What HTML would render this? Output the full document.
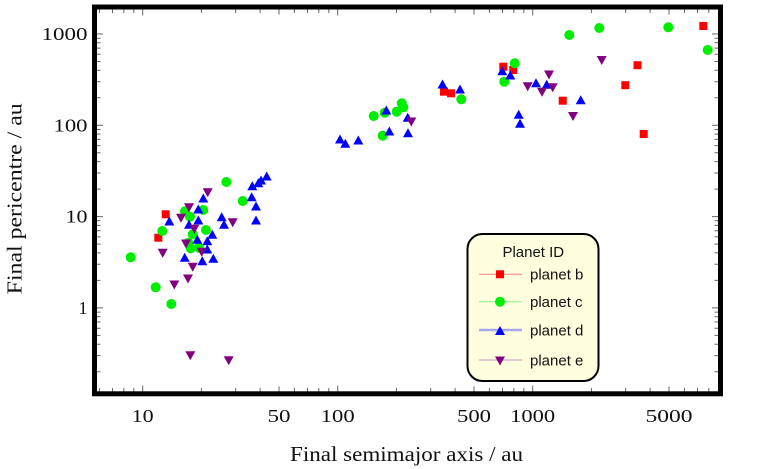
<!DOCTYPE html>
<html>
<head>
<meta charset="utf-8">
<style>
html,body{margin:0;padding:0;background:#fff;}
svg{display:block;}
.tk{font-family:"Liberation Serif",serif;font-size:18px;fill:#111;}
.ax{font-family:"Liberation Serif",serif;font-size:21px;fill:#111;}
.lg{font-family:"Liberation Sans",sans-serif;font-size:15px;fill:#111;}
</style>
</head>
<body>
<svg width="768" height="469" viewBox="0 0 768 469" xmlns="http://www.w3.org/2000/svg">
<rect x="0" y="0" width="768" height="469" fill="#fff"/>

<!-- ticks -->
<g stroke="#666" stroke-width="1" fill="none">
<path d="M142.7 391.5v-6M337.7 391.5v-6M532.7 391.5v-6M279 391.5v-5M474 391.5v-5M669 391.5v-5"/>
<path d="M99.4 391.5v-3.5M112.5 391.5v-3.5M123.8 391.5v-3.5M133.8 391.5v-3.5M201.4 391.5v-3.5M235.7 391.5v-3.5M260.1 391.5v-3.5M294.4 391.5v-3.5M307.5 391.5v-3.5M318.8 391.5v-3.5M328.8 391.5v-3.5M396.4 391.5v-3.5M430.7 391.5v-3.5M455.1 391.5v-3.5M489.4 391.5v-3.5M502.5 391.5v-3.5M513.8 391.5v-3.5M523.8 391.5v-3.5M591.4 391.5v-3.5M625.7 391.5v-3.5M650.1 391.5v-3.5M684.4 391.5v-3.5M697.5 391.5v-3.5M708.8 391.5v-3.5"/>
<path d="M142.7 9.5v6M337.7 9.5v6M532.7 9.5v6M279 9.5v5M474 9.5v5M669 9.5v5"/>
<path d="M99.4 9.5v3.5M112.5 9.5v3.5M123.8 9.5v3.5M133.8 9.5v3.5M201.4 9.5v3.5M235.7 9.5v3.5M260.1 9.5v3.5M294.4 9.5v3.5M307.5 9.5v3.5M318.8 9.5v3.5M328.8 9.5v3.5M396.4 9.5v3.5M430.7 9.5v3.5M455.1 9.5v3.5M489.4 9.5v3.5M502.5 9.5v3.5M513.8 9.5v3.5M523.8 9.5v3.5M591.4 9.5v3.5M625.7 9.5v3.5M650.1 9.5v3.5M684.4 9.5v3.5M697.5 9.5v3.5M708.8 9.5v3.5"/>
<path d="M97 34h6M97 125.3h6M97 216.6h6M97 307.9h6"/>
<path d="M97 97.8h3.5M97 81.7h3.5M97 70.3h3.5M97 61.5h3.5M97 54.3h3.5M97 48.1h3.5M97 42.8h3.5M97 38.2h3.5M97 189.1h3.5M97 173h3.5M97 161.6h3.5M97 152.8h3.5M97 145.6h3.5M97 139.4h3.5M97 134.1h3.5M97 129.5h3.5M97 280.4h3.5M97 264.3h3.5M97 252.9h3.5M97 244.1h3.5M97 236.9h3.5M97 230.7h3.5M97 225.4h3.5M97 220.8h3.5M97 371.7h3.5M97 355.6h3.5M97 344.2h3.5M97 335.4h3.5M97 328.2h3.5M97 322h3.5M97 316.7h3.5M97 312.1h3.5"/>
<path d="M718 34h-6M718 125.3h-6M718 216.6h-6M718 307.9h-6"/>
<path d="M718 97.8h-3.5M718 81.7h-3.5M718 70.3h-3.5M718 61.5h-3.5M718 54.3h-3.5M718 48.1h-3.5M718 42.8h-3.5M718 38.2h-3.5M718 189.1h-3.5M718 173h-3.5M718 161.6h-3.5M718 152.8h-3.5M718 145.6h-3.5M718 139.4h-3.5M718 134.1h-3.5M718 129.5h-3.5M718 280.4h-3.5M718 264.3h-3.5M718 252.9h-3.5M718 244.1h-3.5M718 236.9h-3.5M718 230.7h-3.5M718 225.4h-3.5M718 220.8h-3.5M718 371.7h-3.5M718 355.6h-3.5M718 344.2h-3.5M718 335.4h-3.5M718 328.2h-3.5M718 322h-3.5M718 316.7h-3.5M718 312.1h-3.5"/>
</g>

<!-- planet b: red squares -->
<g fill="#ff0000">
<rect x="161.7" y="210.3" width="8" height="8"/>
<rect x="154.3" y="233.7" width="8" height="8"/>
<rect x="440" y="87.7" width="8" height="8"/>
<rect x="447" y="89.3" width="8" height="8"/>
<rect x="499.3" y="62.7" width="8" height="8"/>
<rect x="509.3" y="66" width="8" height="8"/>
<rect x="558.7" y="96.7" width="8" height="8"/>
<rect x="621.3" y="81.2" width="8" height="8"/>
<rect x="633.5" y="61.2" width="8" height="8"/>
<rect x="639.7" y="130" width="8" height="8"/>
<rect x="699.3" y="22" width="8" height="8"/>
</g>

<!-- planet c: green circles -->
<g fill="#00ee00">
<circle cx="226.3" cy="182" r="5"/>
<circle cx="242.7" cy="201" r="5"/>
<circle cx="185" cy="211.3" r="5"/>
<circle cx="203.3" cy="210" r="5"/>
<circle cx="190" cy="216.7" r="5"/>
<circle cx="162.3" cy="231" r="5"/>
<circle cx="206" cy="230" r="5"/>
<circle cx="192.7" cy="234.3" r="5"/>
<circle cx="188.3" cy="242.7" r="5"/>
<circle cx="190.7" cy="248.3" r="5"/>
<circle cx="199" cy="247.7" r="5"/>
<circle cx="130.7" cy="257.3" r="5"/>
<circle cx="155.7" cy="287.3" r="5"/>
<circle cx="171.3" cy="304" r="5"/>
<circle cx="373.7" cy="116" r="5"/>
<circle cx="384.7" cy="112.7" r="5"/>
<circle cx="396.7" cy="111.7" r="5"/>
<circle cx="401.7" cy="103.3" r="5"/>
<circle cx="403.3" cy="107.3" r="5"/>
<circle cx="382.7" cy="135.7" r="5"/>
<circle cx="461.3" cy="99.3" r="5"/>
<circle cx="514.7" cy="63.3" r="5"/>
<circle cx="504.3" cy="81.7" r="5"/>
<circle cx="569.3" cy="35" r="5"/>
<circle cx="599.3" cy="28" r="5"/>
<circle cx="668.3" cy="27.3" r="5"/>
<circle cx="707.7" cy="50" r="5"/>
</g>

<!-- planet d: blue up triangles -->
<path fill="#0000ff" d="M252.3 185.7m-5 4.5h10l-5-9zM258.3 182.7m-5 4.5h10l-5-9zM261 180m-5 4.5h10l-5-9zM266.7 176m-5 4.5h10l-5-9zM251.7 196.7m-5 4.5h10l-5-9zM256 206m-5 4.5h10l-5-9zM256 220m-5 4.5h10l-5-9zM203.3 198m-5 4.5h10l-5-9zM198.3 209m-5 4.5h10l-5-9zM169.3 221m-5 4.5h10l-5-9zM198.3 220m-5 4.5h10l-5-9zM189 224.3m-5 4.5h10l-5-9zM221.7 216.7m-5 4.5h10l-5-9zM224 224.3m-5 4.5h10l-5-9zM212.3 234.3m-5 4.5h10l-5-9zM197.3 239.3m-5 4.5h10l-5-9zM207.3 240.7m-5 4.5h10l-5-9zM207.3 249m-5 4.5h10l-5-9zM184.7 257.3m-5 4.5h10l-5-9zM202.3 260.7m-5 4.5h10l-5-9zM213.3 258.3m-5 4.5h10l-5-9zM340 139m-5 4.5h10l-5-9zM345.3 143.3m-5 4.5h10l-5-9zM358.3 140m-5 4.5h10l-5-9zM386.3 110m-5 4.5h10l-5-9zM389.3 131m-5 4.5h10l-5-9zM407.7 117.3m-5 4.5h10l-5-9zM408 132.7m-5 4.5h10l-5-9zM442.5 84m-5 4.5h10l-5-9zM460 89m-5 4.5h10l-5-9zM502.3 70.7m-5 4.5h10l-5-9zM510.3 75m-5 4.5h10l-5-9zM518.7 114.3m-5 4.5h10l-5-9zM520 123.3m-5 4.5h10l-5-9zM536 82.7m-5 4.5h10l-5-9zM546.7 84.3m-5 4.5h10l-5-9zM580.7 99.7m-5 4.5h10l-5-9z"/>

<!-- planet e: purple down triangles -->
<path fill="#800080" d="M207.7 192.7m-5 -4.5h10l-5 9zM189 207.7m-5 -4.5h10l-5 9zM181 218.3m-5 -4.5h10l-5 9zM232.7 222.7m-5 -4.5h10l-5 9zM194.3 229.3m-5 -4.5h10l-5 9zM186 244m-5 -4.5h10l-5 9zM201.7 252.3m-5 -4.5h10l-5 9zM162.7 253.3m-5 -4.5h10l-5 9zM192.7 267.3m-5 -4.5h10l-5 9zM188 279m-5 -4.5h10l-5 9zM174.3 285m-5 -4.5h10l-5 9zM190.3 355.7m-5 -4.5h10l-5 9zM228.7 360.7m-5 -4.5h10l-5 9zM411.3 122m-5 -4.5h10l-5 9zM527.7 86.7m-5 -4.5h10l-5 9zM542 92.3m-5 -4.5h10l-5 9zM549 75m-5 -4.5h10l-5 9zM552.7 87.7m-5 -4.5h10l-5 9zM573 116.5m-5 -4.5h10l-5 9zM601.7 60.5m-5 -4.5h10l-5 9z"/>

<!-- frame -->
<rect x="94.5" y="7" width="626" height="386.8" fill="none" stroke="#000" stroke-width="5"/>

<!-- tick labels -->
<g class="tk">
<text x="87.5" y="40" text-anchor="end" textLength="46" lengthAdjust="spacingAndGlyphs">1000</text>
<text x="87.5" y="131.3" text-anchor="end" textLength="34" lengthAdjust="spacingAndGlyphs">100</text>
<text x="87.5" y="222.6" text-anchor="end" textLength="22" lengthAdjust="spacingAndGlyphs">10</text>
<text x="87.5" y="313.9" text-anchor="end">1</text>
<text x="142.7" y="422" text-anchor="middle" textLength="22" lengthAdjust="spacingAndGlyphs">10</text>
<text x="279" y="422" text-anchor="middle" textLength="23" lengthAdjust="spacingAndGlyphs">50</text>
<text x="337.7" y="422" text-anchor="middle" textLength="34" lengthAdjust="spacingAndGlyphs">100</text>
<text x="474" y="422" text-anchor="middle" textLength="34" lengthAdjust="spacingAndGlyphs">500</text>
<text x="532.7" y="422" text-anchor="middle" textLength="45" lengthAdjust="spacingAndGlyphs">1000</text>
<text x="669" y="422" text-anchor="middle" textLength="47" lengthAdjust="spacingAndGlyphs">5000</text>
</g>

<!-- axis titles -->
<text class="ax" x="290" y="461" textLength="233" lengthAdjust="spacingAndGlyphs">Final semimajor axis / au</text>
<text class="ax" transform="translate(21.7,294.3) rotate(-90)" x="0" y="0" textLength="191" lengthAdjust="spacingAndGlyphs">Final pericentre / au</text>

<!-- legend -->
<rect x="467.5" y="234" width="131" height="147" rx="15" ry="15" fill="#ffffdf" stroke="#000" stroke-width="2"/>
<text class="lg" x="533.3" y="257" text-anchor="middle">Planet ID</text>
<line x1="479" y1="274.3" x2="522" y2="274.3" stroke="#ff8080" stroke-width="1"/>
<rect x="496" y="270.3" width="8" height="8" fill="#ff0000"/>
<text class="lg" x="530" y="279.5">planet b</text>
<line x1="479" y1="301.7" x2="522" y2="301.7" stroke="#88f088" stroke-width="1"/>
<circle cx="500" cy="301.7" r="5" fill="#00ee00"/>
<text class="lg" x="530" y="307">planet c</text>
<line x1="479" y1="330" x2="522" y2="330" stroke="#a8a8f0" stroke-width="2.5"/>
<path fill="#0000ff" d="M500 330.5m-5 4.5h10l-5-9z"/>
<text class="lg" x="530" y="335.5">planet d</text>
<line x1="479" y1="360" x2="522" y2="360" stroke="#c490c4" stroke-width="1"/>
<path fill="#800080" d="M500 361m-5 -4.5h10l-5 9z"/>
<text class="lg" x="530" y="365.5">planet e</text>
</svg>
</body>
</html>
